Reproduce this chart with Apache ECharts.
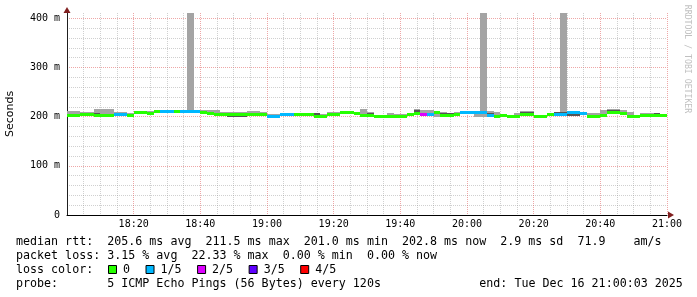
<!DOCTYPE html>
<html><head><meta charset="utf-8">
<script src="https://cdn.jsdelivr.net/npm/echarts@6/dist/echarts.min.js"></script>
<style>html,body{margin:0;padding:0;background:#fff;}#c{width:697px;height:297px;}</style>
</head><body><div id="c"></div>
<script>
// ---- data ----
const stepMinutes = 2; // one probe round every 120 s, starting 18:00
const xTickLabels = ['18:20','18:40','19:00','19:20','19:40','20:00','20:20','20:40','21:00'];
const yTickLabels = ['0','100 m','200 m','300 m','400 m'];
const median = [
202,202,205,205,203,203,203,205,205,203,
208,208,206,210,210,210,210,210,210,210,
209,206,205,205,205,205,204,204,204,204,
200,200,205,205,205,205,204,201,201,205,
205,209,209,206,202,202,201,201,201,201,
201,204,207,205,205,208,203,202,205,209,
209,208,208,203,201,202,200,201,205,205,
201,200,205,205,205,209,209,207,201,201,
203,209,209,206,201,201,203,203,203,203];
const lossCount = [
0,0,0,0,0,0,0,1,1,0,
0,0,0,0,1,1,0,1,1,1,
0,0,0,0,0,0,0,0,0,0,
1,1,1,1,0,0,0,0,0,0,
0,0,0,0,0,0,0,0,0,0,
0,0,0,2,1,0,0,0,0,1,
1,1,1,1,0,0,0,0,0,0,
0,0,0,1,1,1,1,1,0,0,
0,0,0,0,0,0,0,0,0,0];
const pingMax = [
212,212,210,210,216,215,215,210,210,208,
212,212,211,212,212,212,212,212,410,212,
213,214,214,210,210,210,209,211,211,210,
206,206,208,208,207,207,207,207,206,210,
210,212,212,208,216,209,204,204,207,205,
205,207,216,214,214,210,210,207,210,211,
211,211,410,211,210,206,203,207,211,211,
204,202,207,209,410,211,211,210,207,207,
214,216,215,214,210,204,208,208,207,204];
const pingHigh = [
205,205,206,207,208,204,204,206,206,204,
209,209,207,211,211,211,211,211,211,211,
210,207,207,206,206,206,205,205,205,208,
201,201,206,206,206,206,205,207,202,206,
206,210,210,207,203,208,203,202,202,202,
202,207,213,206,206,209,207,207,206,210,
210,209,209,208,202,203,201,202,209,209,
204,201,206,209,209,210,210,209,202,202,
204,214,214,208,202,202,204,204,207,204];
const pingLow = [
201,201,204,204,202,202,202,204,204,200,
207,207,205,209,209,209,209,209,209,209,
208,205,202,204,200,200,200,203,203,203,
199,199,204,204,204,202,203,200,200,204,
204,208,208,205,201,201,201,200,200,200,
200,203,206,204,204,206,202,201,204,205,
205,206,206,206,200,201,199,200,204,204,
202,199,204,204,204,202,202,206,200,200,
200,208,208,205,200,200,202,202,202,202];
const pingMin = [
199,199,202,202,200,200,200,203,203,200,
205,205,203,207,207,207,207,207,207,207,
206,203,202,202,200,200,200,201,201,201,
198,198,202,202,202,201,201,198,198,202,
202,206,206,203,199,199,198,198,198,198,
198,201,204,202,202,200,200,199,202,205,
205,200,200,200,198,199,197,198,202,202,
198,197,202,202,202,202,202,204,198,198,
199,206,206,203,198,198,200,200,200,200];
const lossLabels = ['0','1/5','2/5','3/5','4/5'];
const lossColors = ['#26ff00','#00b8ff','#dd00ff','#5e00ff','#ff0000'];
const statLines = [
  'median rtt:  205.6 ms avg  211.5 ms max  201.0 ms min  202.8 ms now  2.9 ms sd  71.9    am/s',
  'packet loss: 3.15 % avg  22.33 % max  0.00 % min  0.00 % now',
  'loss color:',
  'probe:       5 ICMP Echo Pings (56 Bytes) every 120s'
];
const endText = 'end: Tue Dec 16 21:00:03 2025';
const yTitle = 'Seconds';
const watermark = 'RRDTOOL / TOBI OETIKER';

// ---- layout ----
const W = 697, H = 297;
const GL = 67, GR = 667, GT = 13, GB = 215;
const Y_MAX = 411, X_MAX = 180;
const MONO = '"DejaVu Sans Mono", monospace';
const LEG_FONT = '11.66px ' + MONO;
const CH = 7.02;
const MINOR = 'rgba(150,150,150,0.45)';
const MAJOR = 'rgba(222,79,79,0.5)';
const ARROW = '#801f1f';

const yLineColors = [];
for (let k = 0; k <= Y_MAX / 20 + 1; k++) yLineColors.push(k % 5 === 0 ? MAJOR : MINOR);
yLineColors[Math.floor(Y_MAX / 20) + 1] = 'rgba(0,0,0,0)';
const xLineColors = [];
for (let k = 0; k <= X_MAX / 5; k++) xLineColors.push(k % 4 === 0 ? MAJOR : MINOR);

const seriesData = median.map((m, i) => [i * stepMinutes, pingMin[i], pingLow[i], m, pingHigh[i], pingMax[i], lossCount[i]]);

function renderItem(params, api) {
  const x0 = api.value(0), x1 = x0 + stepMinutes;
  const lo = api.value(1), p2 = api.value(2), med = api.value(3), p4 = api.value(4), hi = api.value(5), loss = api.value(6);
  const xa = Math.round(api.coord([x0, 0])[0]);
  const xb = Math.round(api.coord([x1, 0])[0]);
  const yHi = Math.round(api.coord([x0, hi])[1]);
  const yLo = Math.round(api.coord([x0, lo])[1]);
  const yP4 = Math.round(api.coord([x0, p4])[1]);
  const yP2 = Math.round(api.coord([x0, p2])[1]);
  const yMed = api.coord([x0, med])[1];
  const children = [
    {type: 'rect', shape: {x: xa, y: yHi, width: xb - xa, height: Math.max(1, yLo - yHi)}, style: {fill: '#a4a4a4'}},
  ];
  if (yP2 - yP4 > 0) children.push({type: 'rect', shape: {x: xa, y: yP4, width: xb - xa, height: yP2 - yP4}, style: {fill: '#555555'}});
  children.push({type: 'rect', shape: {x: xa, y: Math.round(yMed - 1.5), width: xb - xa, height: 3}, style: {fill: lossColors[loss]}});
  return {type: 'group', children};
}

const graphics = [];
graphics.push({type: 'polygon', shape: {points: [[GL - 3.5, GT], [GL + 3.5, GT], [GL, GT - 6]]}, style: {fill: ARROW}, z: 100});
graphics.push({type: 'polygon', shape: {points: [[GR + 1, GB - 3.5], [GR + 1, GB + 3.5], [GR + 7, GB]]}, style: {fill: ARROW}, z: 100});
graphics.push({type: 'text', x: 10, y: (GT + GB) / 2, rotation: Math.PI / 2,
  style: {text: yTitle, font: '11px "DejaVu Sans", sans-serif', fill: '#000', align: 'center', verticalAlign: 'middle', textAlign: 'center', textVerticalAlign: 'middle'}});
graphics.push({type: 'text', x: 687, y: 59, rotation: -Math.PI / 2,
  style: {text: watermark, font: '8.2px ' + MONO, fill: '#c0c0c0', align: 'center', verticalAlign: 'middle', textAlign: 'center', textVerticalAlign: 'middle'}});
const lineY0 = 241.5, lineStep = 14;
statLines.forEach((s, k) => {
  graphics.push({type: 'text', x: 16, y: lineY0 + k * lineStep,
    style: {text: s, font: LEG_FONT, fill: '#000', align: 'left', verticalAlign: 'middle', textAlign: 'left', textVerticalAlign: 'middle'}});
});
graphics.push({type: 'text', x: 16 + 66 * CH, y: lineY0 + 3 * lineStep,
  style: {text: endText, font: LEG_FONT, fill: '#000', align: 'left', verticalAlign: 'middle', textAlign: 'left', textVerticalAlign: 'middle'}});
let lx = 108;
const ly = lineY0 + 2 * lineStep;
lossLabels.forEach((lab, k) => {
  graphics.push({type: 'rect', shape: {x: lx + 0.5, y: ly - 4, width: 8, height: 8}, style: {fill: lossColors[k], stroke: '#000', lineWidth: 1}});
  graphics.push({type: 'text', x: lx + 15, y: ly,
    style: {text: lab, font: LEG_FONT, fill: '#000', align: 'left', verticalAlign: 'middle', textAlign: 'left', textVerticalAlign: 'middle'}});
  lx = lx + 15 + lab.length * CH + 15.5;
});

const chart = echarts.init(document.getElementById('c'), null, {renderer: 'canvas', width: W, height: H});
chart.setOption({
  animation: false,
  backgroundColor: '#ffffff',
  grid: {left: GL, right: W - GR, top: GT, bottom: H - GB, containLabel: false, outerBoundsMode: 'none'},
  xAxis: {
    type: 'value', min: 0, max: X_MAX, interval: 5,
    axisLine: {show: true, onZero: false, lineStyle: {color: '#000', width: 1}},
    axisTick: {show: false},
    axisLabel: {
      margin: 4, color: '#000', fontFamily: MONO, fontSize: 10, showMaxLabel: true, showMinLabel: true,
      formatter: v => (v > 0 && v % 20 === 0) ? xTickLabels[v / 20 - 1] : ''
    },
    splitLine: {show: true, lineStyle: {color: xLineColors, width: 1, type: [1, 1]}}
  },
  yAxis: {
    type: 'value', min: 0, max: Y_MAX, interval: 20,
    axisLine: {show: true, lineStyle: {color: '#1f1f1f', width: 1}},
    axisTick: {show: false},
    axisLabel: {
      margin: 7, color: '#000', fontFamily: MONO, fontSize: 10, showMaxLabel: false,
      formatter: v => (v % 100 === 0 && v / 100 < yTickLabels.length) ? yTickLabels[v / 100] : ''
    },
    splitLine: {show: true, showMaxLine: false, lineStyle: {color: yLineColors, width: 1, type: [1, 1]}}
  },
  series: [{
    type: 'custom',
    renderItem: renderItem,
    data: seriesData,
    encode: {x: 0, y: 3},
    clip: true,
    z: 2
  }],
  graphic: graphics
});
</script>
</body></html>
